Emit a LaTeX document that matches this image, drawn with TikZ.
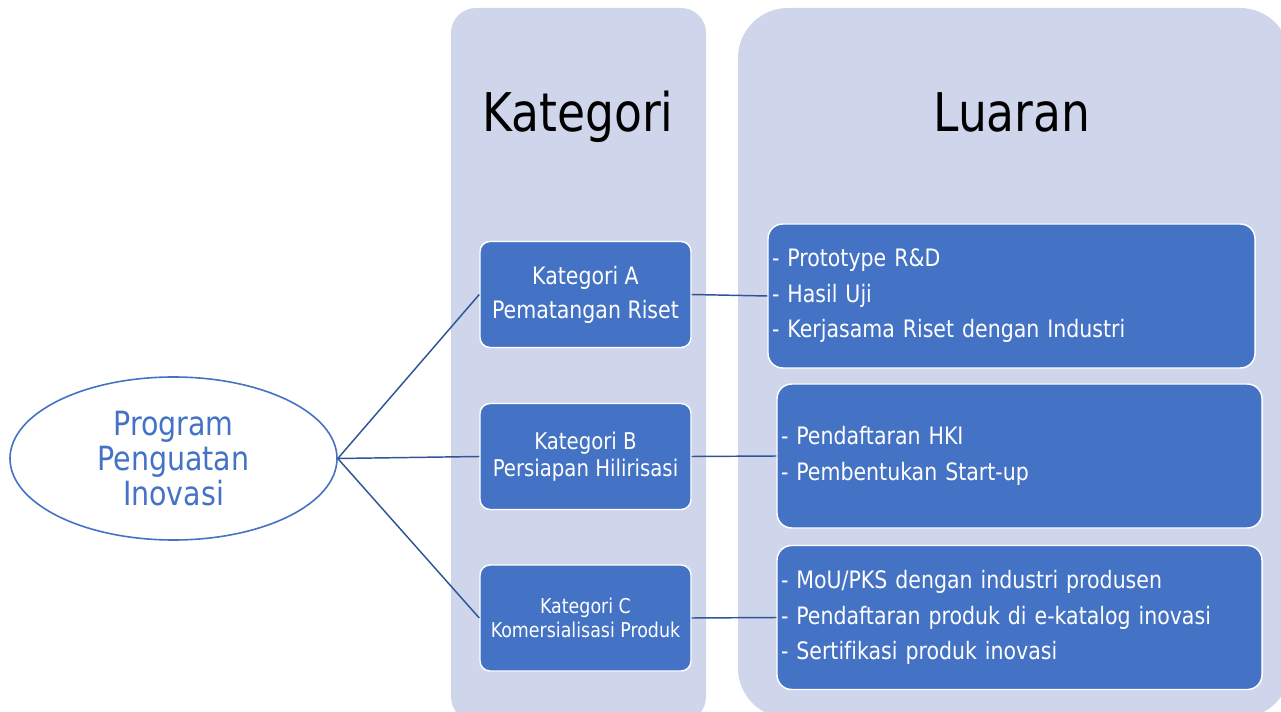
\documentclass[tikz,border=0pt]{standalone}
\usepackage{fontspec}
\setmainfont[FakeStretch=0.95, Ligatures=NoCommon]{DejaVu Sans Condensed}
\usetikzlibrary{shapes.geometric}
\definecolor{panelfill}{HTML}{CFD5EA}
\definecolor{boxblue}{HTML}{4472C4}
\definecolor{linkblue}{HTML}{2F5597}
\tikzset{
  panel/.style={fill=panelfill},
  catbox/.style={draw=white, line width=1.1pt, fill=boxblue, rounded corners=7.5pt,
    text=white, align=center, minimum width=158.25pt, minimum height=79.5pt, inner sep=0pt},
  outbox/.style={draw=white, line width=1.1pt, fill=boxblue, rounded corners=11pt,
    text=white, align=left, minimum height=108pt, inner xsep=3pt, inner ysep=0pt,
    font=\fontsize{18}{26.6}\selectfont},
  link/.style={draw=linkblue, line width=1.1pt},
  title/.style={anchor=base, font=\fontsize{40}{48}\selectfont, text=black}
}
\begin{document}
\begin{tikzpicture}[x=0.75pt, y=-0.75pt]
\useasboundingbox (0,0) rectangle (1281,712);
\clip (0,0) rectangle (1281,712);
% panels
\fill[panel, rounded corners=18.75pt] (451,8) rectangle (706,722);
\fill[panel, rounded corners=37.5pt] (738,8) rectangle (1290,718);
% titles
\node[title] (tk) at (578,132) {Kategori};
\node[title] (tl) at (1012,132) {Luaran};
% ellipse
\node[ellipse, draw=boxblue, line width=1.2pt, fill=white, minimum width=245.25pt,
  minimum height=122.25pt, inner sep=0pt, align=center, text=boxblue,
  font=\fontsize{25}{26.25}\selectfont] (prog) at (173.5,458.5) {Program\\Penguatan\\Inovasi};
% category boxes
\node[catbox, font=\fontsize{18}{25.5}\selectfont] (ka) at (585.5,294.5) {Kategori A\\Pematangan Riset};
\node[catbox, font=\fontsize{17.3}{20.5}\selectfont] (kb) at (585.5,456.5) {Kategori B\\Persiapan Hilirisasi};
\node[catbox, font=\fontsize{15.3}{17.5}\selectfont] (kc) at (585.5,618) {Kategori C\\Komersialisasi Produk};
% output boxes
\node[outbox, text width=359.25pt] (oa) at (1011.5,296) {- Prototype R\&D\\- Hasil Uji\\- Kerjasama Riset dengan Industri};
\node[outbox, text width=357.75pt] (ob) at (1019.5,456) {- Pendaftaran HKI\\- Pembentukan Start-up};
\node[outbox, text width=357.75pt] (oc) at (1019.5,617.5) {- MoU/PKS dengan industri produsen\\- Pendaftaran produk di e-katalog inovasi\\- Sertifikasi produk inovasi};
% connectors
\draw[link] (prog.east) -- (ka.west);
\draw[link] (prog.east) -- (kb.west);
\draw[link] (prog.east) -- (kc.west);
\draw[link] (ka.east) -- (oa.west);
\draw[link] (kb.east) -- (ob.west);
\draw[link] (kc.east) -- (oc.west);
\end{tikzpicture}
\end{document}
